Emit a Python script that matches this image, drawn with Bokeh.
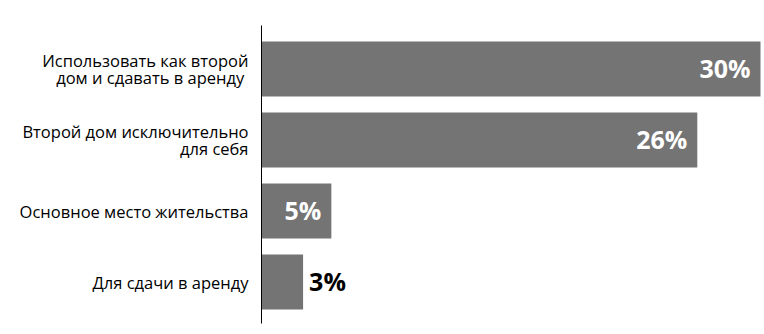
from bokeh.plotting import figure
from bokeh.models import ColumnDataSource, Range1d
from bokeh.core.properties import value
from bokeh.embed import file_html
from bokeh.resources import INLINE

categories = [
    "Использовать как второй\nдом и сдавать в аренду ",
    "Второй дом исключительно\nдля себя",
    "Основное место жительства",
    "Для сдачи в аренду",
]
values = [30.0, 26.2, 4.2, 2.5]
value_labels = ["30%", "26%", "5%", "3%"]

W, H = 764, 334
axis_px = 261          # pixel position of the zero line inside the figure
px_per_unit = 499 / 30.0
row_px = 71.0
first_row_px = 68.5

x0 = -axis_px / px_per_unit
x1 = (W - axis_px) / px_per_unit
ytop = -first_row_px / row_px
ybot = ytop + H / row_px

p = figure(width=W, height=H, output_backend="svg", toolbar_location=None,
           x_range=Range1d(x0, x1), y_range=Range1d(ybot, ytop),
           min_border=0, min_border_left=0, min_border_right=0,
           min_border_top=0, min_border_bottom=0)
p.axis.visible = False
p.grid.visible = False
p.outline_line_color = None
p.background_fill_color = "white"
p.border_fill_color = "white"

idx = list(range(len(values)))
src = ColumnDataSource(dict(y=idx, v=values, cat=categories, lab=value_labels,
                            zero=[0] * len(values)))

p.hbar(y="y", left=0, right="v", height=55 / row_px, source=src,
       fill_color="#747474", line_color=None)

# axis line
p.segment(x0=[0], x1=[0], y0=[ytop + 25 / row_px], y1=[ytop + 323 / row_px],
          line_color="black", line_width=1)

# category labels
p.text(x="zero", y="y", text="cat", source=src, x_offset=-13,
       text_align="right", text_baseline="middle", text_font=value("Open Sans"),
       text_font_size="16.5px", text_color="#000000", text_line_height=0.78)

inside = [i for i, v in enumerate(values) if v > 3.5]
outside = [i for i, v in enumerate(values) if v <= 3.5]
src_in = ColumnDataSource(dict(y=[idx[i] for i in inside], v=[values[i] for i in inside],
                               lab=[value_labels[i] for i in inside]))
src_out = ColumnDataSource(dict(y=[idx[i] for i in outside], v=[values[i] for i in outside],
                                lab=[value_labels[i] for i in outside]))

p.text(x="v", y="y", text="lab", source=src_in, x_offset=-10, y_offset=-1,
       text_align="right", text_baseline="middle", text_font=value("Open Sans"),
       text_font_style="bold", text_font_size="25px", text_color="white")
p.text(x="v", y="y", text="lab", source=src_out, x_offset=6, y_offset=-1,
       text_align="left", text_baseline="middle", text_font=value("Open Sans"),
       text_font_style="bold", text_font_size="25px", text_color="black")

open("out.html", "w").write(file_html(p, INLINE))
